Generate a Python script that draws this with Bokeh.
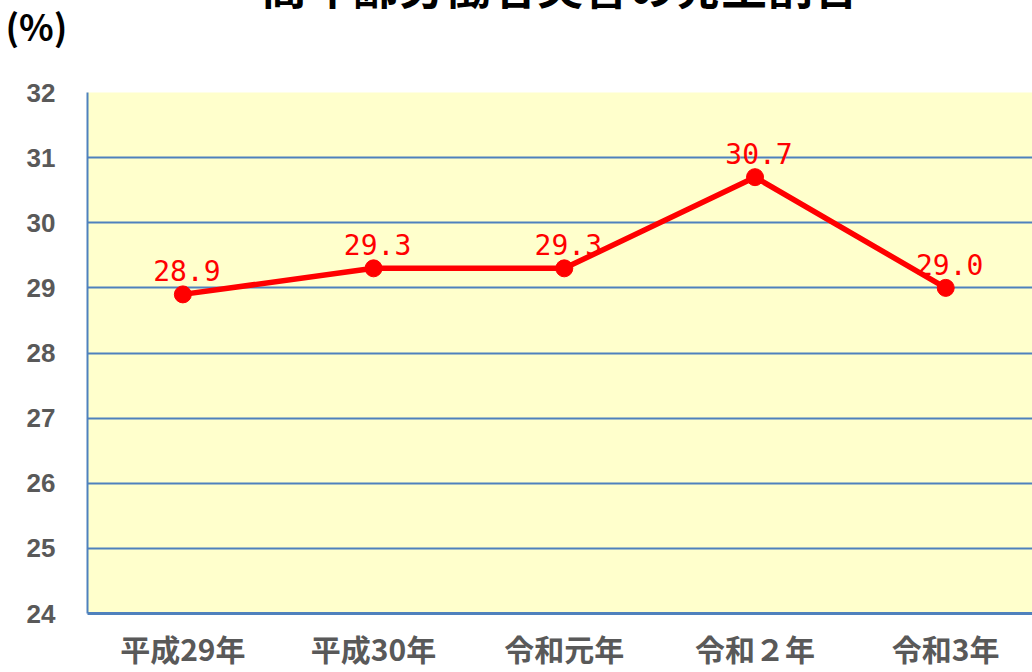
from bokeh.plotting import figure
from bokeh.models import Range1d, FixedTicker, Title, ColumnDataSource
from bokeh.embed import file_html
from bokeh.resources import INLINE
from bokeh.core.properties import value

title_text = "高年齢労働者災害の発生割合"
unit_text = "(%)"
categories = ["平成29年", "平成30年", "令和元年", "令和２年", "令和3年"]
rates = [28.9, 29.3, 29.3, 30.7, 29.0]
y_ticks = [24, 25, 26, 27, 28, 29, 30, 31, 32]

xs = list(range(len(categories)))
src = ColumnDataSource(dict(x=xs, y=rates, lbl=[f"{v:.1f}" for v in rates]))

p = figure(width=1032, height=672, output_backend="svg", toolbar_location=None,
           x_range=Range1d(-0.5, 4.455), y_range=Range1d(24, 32),
           min_border_left=87, min_border_right=0, min_border_top=92, min_border_bottom=0)
p.background_fill_color = "#FFFFCC"
p.border_fill_color = "white"
p.outline_line_color = None

p.title.text = title_text
p.title.align = "center"
p.title.text_font = "Noto Sans CJK JP"
p.title.text_font_size = "46px"
p.title.text_font_style = "bold"
p.title.text_color = "black"
p.title.vertical_align = "top"
p.title.standoff = -120

p.add_layout(Title(text=unit_text + "\n ", align="left", offset=-82, text_font="Noto Sans CJK JP",
                   text_font_size="36px", text_font_style="bold", text_color="black",
                   vertical_align="top", standoff=-24), "above")

p.line("x", "y", source=src, line_color="#FF0000", line_width=5.5)
p.scatter("x", "y", source=src, size=17, fill_color="#FF0000", line_color="#FF0000")
p.text("x", "y", text="lbl", source=src, text_color="#FF0000",
       text_font=value("DejaVu Sans Mono"), text_font_size="28px",
       text_align="center", text_baseline="bottom", x_offset=4, y_offset=-13)

p.xgrid.grid_line_color = None
p.ygrid.ticker = FixedTicker(ticks=y_ticks)
p.ygrid.grid_line_color = "#4F81BD"
p.ygrid.grid_line_width = 2

p.yaxis.ticker = FixedTicker(ticks=y_ticks)
p.yaxis.axis_line_color = "#4F81BD"
p.yaxis.axis_line_width = 2
p.yaxis.major_tick_line_color = None
p.yaxis.minor_tick_line_color = None
p.yaxis.major_label_text_font = "Liberation Sans"
p.yaxis.major_label_text_font_size = "26px"
p.yaxis.major_label_text_font_style = "bold"
p.yaxis.major_label_text_color = "#595959"
p.yaxis.major_label_standoff = 26

p.xaxis.ticker = FixedTicker(ticks=xs)
p.xaxis.major_label_overrides = {i: c for i, c in enumerate(categories)}
p.xaxis.axis_line_color = "#4F81BD"
p.xaxis.axis_line_width = 3
p.xaxis.major_tick_line_color = None
p.xaxis.minor_tick_line_color = None
p.xaxis.major_label_text_font = "Noto Sans CJK JP"
p.xaxis.major_label_text_font_size = "30px"
p.xaxis.major_label_text_font_style = "bold"
p.xaxis.major_label_text_color = "#595959"
p.xaxis.major_label_standoff = 6

open("out.html", "w").write(file_html(p, INLINE))
